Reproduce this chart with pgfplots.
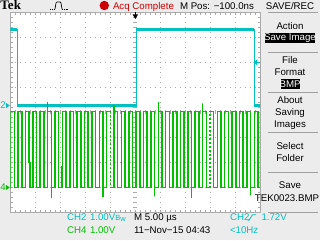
\documentclass[border=0pt]{standalone}
\usepackage{pgfplots}
\pgfplotsset{compat=1.18}
\usepackage{fontspec}
\setmainfont{Liberation Sans}
\newfontfamily\tekfont{Liberation Serif}
\definecolor{tcyan}{RGB}{0,192,192}
\definecolor{tgreen}{RGB}{0,192,0}
\definecolor{tred}{RGB}{204,0,0}
\definecolor{bg}{RGB}{236,236,236}
\definecolor{grat}{RGB}{170,170,170}
\definecolor{sep}{RGB}{160,160,160}
\newcommand{\sz}{\fontsize{9.7}{10}\selectfont}
\begin{document}
\begin{tikzpicture}[x=1pt,y=1pt,every node/.style={inner sep=0pt,outer sep=0pt}]
\useasboundingbox (0,0) rectangle (320,240);
\fill[bg] (0,0) rectangle (320,240);
\fill[white] (10.3,27.7) rectangle (260.3,227.7);
% graticule dots
\foreach \i in {1,...,9}
  \draw[grat,line width=1pt,dash pattern=on 1pt off 4pt,dash phase=0.5pt] (10.3+25*\i,27.7) -- (10.3+25*\i,227.7);
\foreach \j in {1,...,7}
  \draw[grat,line width=1pt,dash pattern=on 1pt off 4pt,dash phase=0.5pt] (10.3,27.7+25*\j) -- (260.3,27.7+25*\j);
% centre cross ticks
\foreach \k in {1,...,49} \draw[grat,line width=0.8pt] (10.3+5*\k,125.7) -- ++(0,4);
\foreach \k in {1,...,39} \draw[grat,line width=0.8pt] (133.3,27.7+5*\k) -- ++(4,0);
% border ticks
\foreach \k in {1,...,49} {\draw[grat,line width=0.8pt] (10.3+5*\k,27.7) -- ++(0,2.5); \draw[grat,line width=0.8pt] (10.3+5*\k,227.7) -- ++(0,-2.5);}
\foreach \k in {1,...,39} {\draw[grat,line width=0.8pt] (10.3,27.7+5*\k) -- ++(2.5,0); \draw[grat,line width=0.8pt] (260.3,27.7+5*\k) -- ++(-2.5,0);}
\draw[grat,line width=1pt] (10.3,27.7) rectangle (260.3,227.7);

\begin{axis}[at={(10.3pt,27.7pt)},anchor=south west,width=250pt,height=200pt,scale only axis,
  xmin=0,xmax=10,ymin=0,ymax=8,axis line style={draw=none},ticks=none,clip=true]
% CH2 cyan: edges thin, levels thick
\addplot[tcyan,line width=1.2pt] coordinates {(0,7.32) (0.28,7.32) (0.28,4.28) (5.05,4.28) (5.05,7.40) (5.05,7.32) (9.76,7.32) (9.76,4.28) (10,4.28)};
\addplot[tcyan,line width=2.6pt] coordinates {(0,7.32) (0.28,7.32)};
\addplot[tcyan,line width=2.6pt] coordinates {(0.28,4.28) (5.05,4.28)};
\addplot[tcyan,line width=2.6pt] coordinates {(5.05,7.32) (9.76,7.32)};
\addplot[tcyan,line width=2.6pt] coordinates {(9.76,4.28) (10,4.28)};
% CH4 green
\addplot[tgreen,line width=1.5pt] coordinates {
(0,0.99) (0.016,0.99) (0.016,4.04) (0.164,4.04) (0.164,0.99) (0.311,0.99) (0.311,4.04)
(0.459,4.04) (0.459,0.99) (0.606,0.99) (0.606,4.04) (0.754,4.04) (0.754,2.00) (0.794,2.00) (0.794,0.99)
(0.902,0.99) (0.902,4.04) (1.049,4.04) (1.049,0.99) (1.197,0.99) (1.197,4.04) (1.344,4.04) (1.344,0.99)
(1.492,0.99) (1.492,4.42) (1.492,4.04) (1.640,4.04) (1.640,0.57) (1.640,0.99)
(1.787,0.99) (1.787,4.04) (1.935,4.04) (1.935,0.99) (2.07,0.99) (2.07,1.82) (2.095,1.82) (2.095,4.04)
(2.230,4.04) (2.230,0.99) (2.378,0.99) (2.378,4.04) (2.525,4.04) (2.525,0.99) (2.673,0.99) (2.673,4.04)
(2.820,4.04) (2.820,0.99) (2.968,0.99) (2.968,4.04) (3.116,4.04) (3.116,0.99) (3.263,0.99) (3.263,4.04)
(3.411,4.04) (3.411,0.99) (3.558,0.99) (3.558,4.04) (3.706,4.04) (3.706,0.61) (3.706,0.99)
(3.854,0.99) (3.854,4.04) (4.001,4.04)};
\addplot[tgreen,line width=1.5pt,dash pattern=on 2pt off 2pt] coordinates {(4.001,4.04) (4.001,0.99)};
\addplot[tgreen,line width=1.5pt] coordinates {
(4.001,0.99) (4.149,0.99) (4.149,4.28) (4.149,4.04) (4.296,4.04) (4.296,0.99) (4.444,0.99) (4.444,4.04)
(4.592,4.04) (4.592,0.99) (4.739,0.99) (4.739,4.04) (4.887,4.04) (4.887,0.99) (5.034,0.99) (5.034,4.04)
(5.182,4.04) (5.182,0.99) (5.330,0.99) (5.330,4.04) (5.477,4.04) (5.477,0.99) (5.625,0.99) (5.625,4.04)
(5.772,4.04) (5.772,0.64) (5.772,0.99) (5.920,0.99) (5.920,4.42) (5.920,4.04)
(6.068,4.04) (6.068,0.99) (6.215,0.99) (6.215,4.04) (6.363,4.04) (6.363,0.99) (6.510,0.99) (6.510,4.04)
(6.658,4.04) (6.658,0.99) (6.806,0.99) (6.806,4.04) (6.953,4.04) (6.953,0.99) (7.101,0.99) (7.101,4.04)
(7.248,4.04) (7.248,0.57) (7.248,0.99) (7.396,0.99) (7.396,4.04) (7.544,4.04) (7.544,0.99)
(7.691,0.99) (7.691,4.36) (7.691,4.04) (7.839,4.04) (7.839,0.99) (7.986,0.99)};
\addplot[tgreen,line width=1.5pt,dash pattern=on 2pt off 2pt] coordinates {(7.986,0.99) (7.986,4.04)};
\addplot[tgreen,line width=1.5pt] coordinates {
(7.986,4.04) (8.134,4.04) (8.134,0.99) (8.282,0.99) (8.282,4.04) (8.429,4.04) (8.429,0.99)
(8.577,0.99) (8.577,4.04) (8.724,4.04) (8.724,0.99) (8.872,0.99) (8.872,4.04) (9.020,4.04) (9.020,0.99)
(9.167,0.99) (9.167,4.04) (9.315,4.04) (9.315,0.99) (9.462,0.99) (9.462,4.04)
(9.610,4.04) (9.610,0.68) (9.610,0.99) (9.758,0.99) (9.758,4.04) (9.905,4.04) (9.905,0.99) (10,0.99)};
\end{axis}

% trigger position marker (top)
\draw[black,line width=0.8pt] (135.3,227.7) -- (135.3,225);
\fill[black] (132.6,225.5) -- (138,225.5) -- (135.3,221) -- cycle;
% trigger level marker (right)
\fill[tcyan] (253.3,177.7) -- (257.3,180.7) -- (257.3,174.7) -- cycle;
\draw[tcyan,line width=1pt] (256,177.7) -- (260.3,177.7);
% channel ground markers
\node[anchor=base west,text=tcyan] at (0.5,131) {\sz 2};
\fill[tcyan] (6,137) -- (6,132) -- (9.8,134.5) -- cycle;
\node[anchor=base west,text=tgreen] at (0.5,49) {\sz 4};
\fill[tgreen] (6,55) -- (6,50) -- (9.8,52.5) -- cycle;

% top bar
\node[anchor=base west] at (0.5,230.5) {\tekfont\bfseries\fontsize{13}{13}\selectfont Tek};
\draw[black,line width=0.6pt,dash pattern=on 0.6pt off 1.2pt] (50,231) -- (55,231);
\draw[black,line width=0.7pt] (55,231) -- (56,237) -- (57,238) -- (60,238) -- (61,237) -- (62,231);
\draw[black,line width=0.6pt,dash pattern=on 0.6pt off 1.2pt] (62,231) -- (68,231);
\fill[tred] (104.3,234.5) circle (4.7);
\node[anchor=base west,text=tred] at (113,230.8) {\sz Acq Complete};
\node[anchor=base west] at (180,230.8) {\sz M Pos: −100.0ns};
\node[anchor=base] at (290,230.8) {\sz SAVE/REC};

% right menu
\foreach \yy in {227.3,187.7,147.7,107.7,67.7,27.7} \draw[sep,line width=0.9pt] (268,\yy) -- (318,\yy);
\node[anchor=base] at (290,210.5) {\sz Action};
\fill[black] (265,197) rectangle (315,207);
\node[anchor=base,text=white] at (290,199.5) {\sz Save Image};
\node[anchor=base] at (290,176.5) {\sz File};
\node[anchor=base] at (290,164.5) {\sz Format};
\fill[black] (281,150.5) rectangle (299.5,160.5);
\node[anchor=base,text=white] at (290.2,152.2) {\sz BMP};
\node[anchor=base] at (290,136.5) {\sz About};
\node[anchor=base] at (290,124.2) {\sz Saving};
\node[anchor=base] at (290,112.2) {\sz Images};
\node[anchor=base] at (290,90.5) {\sz Select};
\node[anchor=base] at (290,78.8) {\sz Folder};
\node[anchor=base] at (290,51.2) {\sz Save};
\node[anchor=base] at (287,38.8) {\sz TEK0023.BMP};

% bottom status
\node[anchor=base west,text=tcyan] at (67,19.3) {\sz CH2};
\node[anchor=base west,text=tcyan] at (90,19.3) {\sz 1.00V{\fontsize{7.5}{8}\selectfont B\raisebox{-1pt}{w}}};
\node[anchor=base west] at (134,19.3) {\sz M 5.00 µs};
\node[anchor=base west,text=tcyan] at (230,19.3) {\sz CH2};
\draw[tcyan,line width=0.8pt] (247.5,19.8) -- (249,19.8) -- (252.5,25.2) -- (256,25.2);
\node[anchor=base west,text=tcyan] at (261.5,19.3) {\sz 1.72V};
\node[anchor=base west,text=tgreen] at (67,6) {\sz CH4};
\node[anchor=base west,text=tgreen] at (90,6) {\sz 1.00V};
\node[anchor=base west] at (134,6) {\sz 11−Nov−15 04:43};
\node[anchor=base west,text=tcyan] at (230,6) {\sz <10Hz};
\end{tikzpicture}
\end{document}
